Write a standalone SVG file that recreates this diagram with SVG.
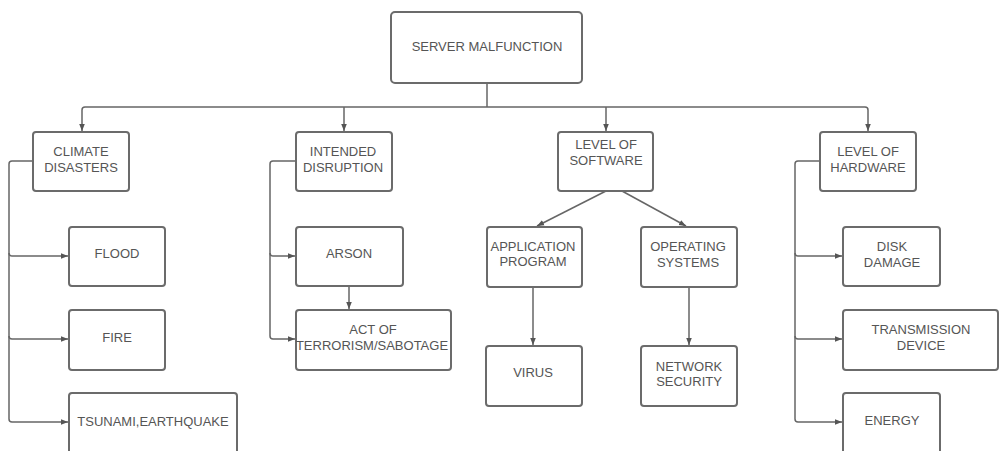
<svg xmlns="http://www.w3.org/2000/svg" width="999" height="451" viewBox="0 0 999 451">
<style>
.box{fill:#fff;stroke:#6b6b6b;stroke-width:2}
.t{font-family:"Liberation Sans",Arial,sans-serif;font-size:13px;fill:#555;text-anchor:middle}
.c{fill:none;stroke:#666;stroke-width:1.5}
</style>
<defs>
<marker id="ah" viewBox="0 0 10 10" refX="10" refY="5" markerWidth="7" markerHeight="7" orient="auto" markerUnits="userSpaceOnUse">
<path d="M0,1 L10,5 L0,9 Z" fill="#555"/>
</marker>
</defs>
<rect width="999" height="451" fill="#fff"/>
<g id="connectors">
<path class="c" d="M487,83 V107"/>
<path class="c" d="M85,107 H865 Q868,107 868,110 V131" marker-end="url(#ah)"/>
<path class="c" d="M85,107 Q82,107 82,110 V131" marker-end="url(#ah)"/>
<path class="c" d="M344,107 V131" marker-end="url(#ah)"/>
<path class="c" d="M606,107 V131" marker-end="url(#ah)"/>
<path class="c" d="M33,161 H12 Q9,161 9,164 V253 Q9,256 12,256 H68" marker-end="url(#ah)"/>
<path class="c" d="M9,253 V336 Q9,339 12,339 H68" marker-end="url(#ah)"/>
<path class="c" d="M9,336 V419 Q9,422 12,422 H68" marker-end="url(#ah)"/>
<path class="c" d="M296,161 H273 Q270,161 270,164 V253 Q270,256 273,256 H295" marker-end="url(#ah)"/>
<path class="c" d="M270,253 V336 Q270,339 273,339 H295" marker-end="url(#ah)"/>
<path class="c" d="M349,287 V309" marker-end="url(#ah)"/>
<path class="c" d="M606,191 L537,226" marker-end="url(#ah)"/>
<path class="c" d="M622,191 L686,226" marker-end="url(#ah)"/>
<path class="c" d="M533,287 V345" marker-end="url(#ah)"/>
<path class="c" d="M689,287 V345" marker-end="url(#ah)"/>
<path class="c" d="M820,161 H798 Q795,161 795,164 V253 Q795,256 798,256 H842" marker-end="url(#ah)"/>
<path class="c" d="M795,253 V336 Q795,339 798,339 H842" marker-end="url(#ah)"/>
<path class="c" d="M795,336 V419 Q795,422 798,422 H842" marker-end="url(#ah)"/>
</g>
<g id="root"><rect class="box" x="391" y="12" width="191" height="71" rx="4"/><text class="t" x="487" y="51">SERVER MALFUNCTION</text></g>
<g id="climate"><rect class="box" x="33" y="132" width="96" height="59" rx="3"/><text class="t" x="81" y="156">CLIMATE</text><text class="t" x="81" y="172">DISASTERS</text></g>
<g id="intended"><rect class="box" x="296" y="132" width="96" height="59" rx="3"/><text class="t" x="343" y="156">INTENDED</text><text class="t" x="343" y="172">DISRUPTION</text></g>
<g id="software"><rect class="box" x="558" y="132" width="95" height="59" rx="3"/><text class="t" x="606" y="149">LEVEL OF</text><text class="t" x="606" y="165">SOFTWARE</text></g>
<g id="hardware"><rect class="box" x="820" y="132" width="96" height="59" rx="3"/><text class="t" x="868" y="156">LEVEL OF</text><text class="t" x="868" y="172">HARDWARE</text></g>
<g id="flood"><rect class="box" x="69" y="227" width="96" height="59" rx="3"/><text class="t" x="117" y="258">FLOOD</text></g>
<g id="fire"><rect class="box" x="69" y="310" width="96" height="60" rx="3"/><text class="t" x="117" y="342">FIRE</text></g>
<g id="tsunami"><rect class="box" x="69" y="393" width="168" height="62" rx="3"/><text class="t" x="153" y="426">TSUNAMI,EARTHQUAKE</text></g>
<g id="arson"><rect class="box" x="296" y="227" width="107" height="59" rx="3"/><text class="t" x="349" y="258">ARSON</text></g>
<g id="terrorism"><rect class="box" x="296" y="310" width="155" height="60" rx="3"/><text class="t" x="373" y="334">ACT OF</text><text class="t" x="372" y="350">TERRORISM/SABOTAGE</text></g>
<g id="application"><rect class="box" x="487" y="227" width="95" height="60" rx="3"/><text class="t" x="533" y="251">APPLICATION</text><text class="t" x="533" y="266">PROGRAM</text></g>
<g id="os"><rect class="box" x="641" y="227" width="96" height="60" rx="3"/><text class="t" x="688" y="251">OPERATING</text><text class="t" x="688" y="267">SYSTEMS</text></g>
<g id="virus"><rect class="box" x="486" y="346" width="96" height="60" rx="3"/><text class="t" x="533" y="377">VIRUS</text></g>
<g id="network"><rect class="box" x="641" y="346" width="96" height="60" rx="3"/><text class="t" x="689" y="371">NETWORK</text><text class="t" x="689" y="386">SECURITY</text></g>
<g id="disk"><rect class="box" x="843" y="227" width="97" height="59" rx="3"/><text class="t" x="892" y="251">DISK</text><text class="t" x="892" y="267">DAMAGE</text></g>
<g id="transmission"><rect class="box" x="843" y="310" width="155" height="60" rx="3"/><text class="t" x="921" y="334">TRANSMISSION</text><text class="t" x="921" y="350">DEVICE</text></g>
<g id="energy"><rect class="box" x="843" y="393" width="97" height="62" rx="3"/><text class="t" x="892" y="425">ENERGY</text></g>
</svg>
